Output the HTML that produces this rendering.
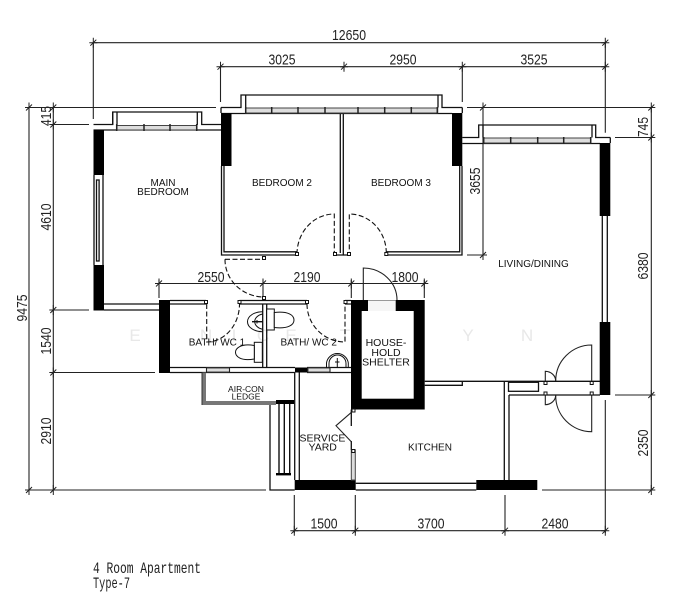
<!DOCTYPE html>
<html>
<head>
<meta charset="utf-8">
<style>
html,body{margin:0;padding:0;background:#fff;width:686px;height:600px;overflow:hidden}
svg{display:block}
.d{stroke:#222;stroke-width:1.1;fill:none}
.w{stroke:#111;stroke-width:1.3;fill:none}
.g{stroke:#444;stroke-width:1;fill:#ddd}
.dash{stroke:#111;stroke-width:1.1;fill:none;stroke-dasharray:5 2.5}
.num{font-family:"Liberation Sans",sans-serif;font-size:15px;fill:#222;text-anchor:middle}
.lb{font-family:"Liberation Sans",sans-serif;font-size:10px;fill:#111;text-anchor:middle}
.mono{font-family:"Liberation Mono",monospace;font-size:16px;fill:#222}
.wm{font-family:"Liberation Sans",sans-serif;font-size:17px;fill:#e8e8e8;text-anchor:middle}
</style>
</head>
<body>
<svg width="686" height="600" viewBox="0 0 686 600" xmlns="http://www.w3.org/2000/svg">
<defs>
<path id="t" d="M0-5V5M-4 0H4M-3 3L3-3" stroke="#222" stroke-width="1" fill="none"/>
<path id="p" d="M-1.5-1.5h3v3h-3z" stroke="#111" stroke-width="1" fill="#fff"/>
</defs>
<rect width="686" height="600" fill="#fff"/>

<!-- watermark -->
<g class="wm">
<text x="135" y="341">E</text><text x="165" y="341">U</text><text x="206" y="341">N</text><text x="234" y="341">I</text><text x="263" y="341">C</text><text x="291" y="341">E</text><text x="345" y="341">T</text><text x="375" y="341">E</text><text x="409" y="341">O</text><text x="468" y="341">Y</text><text x="527" y="341">N</text>
</g>

<!-- dimension lines -->
<g class="d">
<path d="M93.3 42.7H605.3M220.5 66.7H605.3"/>
<path d="M93.3 42V119M220.5 66V102M344 66V70M462.3 66V102M605.3 42V132.7"/>
<path d="M29 107.5V490M53.3 107.5V490"/>
<path d="M27 107.5H216M53 124.5H89M50 310H89M50 372.5H155M25 490H266"/>
<path d="M467 107.5H652M615 137.5H652M615 395H652M542 490H655M467 255H483"/>
<path d="M483 107.5V255M651.3 107.5V490"/>
<path d="M294.3 530.7H605.3M294.3 495V533M355.3 495V533M505 495V533M605.3 400V533"/>
<path d="M155 283.5H428M159 280V298M263 280V298M351.3 280V298M424.3 280V298"/>
</g>
<g>
<use href="#t" x="93.3" y="42.7"/><use href="#t" x="605.3" y="42.7"/>
<use href="#t" x="220.5" y="66.7"/><use href="#t" x="344" y="66.7"/><use href="#t" x="462.3" y="66.7"/><use href="#t" x="605.3" y="66.7"/>
<use href="#t" x="29" y="107.5"/><use href="#t" x="29" y="490"/>
<use href="#t" x="53.3" y="107.5"/><use href="#t" x="53.3" y="124.5"/><use href="#t" x="53.3" y="310"/><use href="#t" x="53.3" y="372.5"/><use href="#t" x="53.3" y="490"/>
<use href="#t" x="483" y="107.5"/><use href="#t" x="483" y="255"/>
<use href="#t" x="651.3" y="107.5"/><use href="#t" x="651.3" y="137.5"/><use href="#t" x="651.3" y="395"/><use href="#t" x="651.3" y="490"/>
<use href="#t" x="294.3" y="530.7"/><use href="#t" x="355.3" y="530.7"/><use href="#t" x="505" y="530.7"/><use href="#t" x="605.3" y="530.7"/>
<use href="#t" x="159" y="283.5"/><use href="#t" x="263" y="283.5"/><use href="#t" x="351.3" y="283.5"/><use href="#t" x="424.3" y="283.5"/>
</g>

<!-- dimension text -->
<g class="num">
<text x="349" y="40" textLength="34" lengthAdjust="spacingAndGlyphs">12650</text>
<text x="282" y="64.5" textLength="27" lengthAdjust="spacingAndGlyphs">3025</text>
<text x="403" y="64.5" textLength="27" lengthAdjust="spacingAndGlyphs">2950</text>
<text x="534" y="64.5" textLength="27" lengthAdjust="spacingAndGlyphs">3525</text>
<text x="211" y="282" textLength="27" lengthAdjust="spacingAndGlyphs">2550</text>
<text x="307" y="282" textLength="27" lengthAdjust="spacingAndGlyphs">2190</text>
<text x="405" y="282" textLength="27" lengthAdjust="spacingAndGlyphs">1800</text>
<text x="324" y="528.5" textLength="27" lengthAdjust="spacingAndGlyphs">1500</text>
<text x="431" y="528.5" textLength="27" lengthAdjust="spacingAndGlyphs">3700</text>
<text x="555" y="528.5" textLength="27" lengthAdjust="spacingAndGlyphs">2480</text>
<text transform="translate(51,116) rotate(-90)" textLength="20" lengthAdjust="spacingAndGlyphs">415</text>
<text transform="translate(51,217) rotate(-90)" textLength="27" lengthAdjust="spacingAndGlyphs">4610</text>
<text transform="translate(27,308) rotate(-90)" textLength="27" lengthAdjust="spacingAndGlyphs">9475</text>
<text transform="translate(51,341) rotate(-90)" textLength="27" lengthAdjust="spacingAndGlyphs">1540</text>
<text transform="translate(51,431) rotate(-90)" textLength="27" lengthAdjust="spacingAndGlyphs">2910</text>
<text transform="translate(480,181) rotate(-90)" textLength="27" lengthAdjust="spacingAndGlyphs">3655</text>
<text transform="translate(648,127) rotate(-90)" textLength="20" lengthAdjust="spacingAndGlyphs">745</text>
<text transform="translate(648,266) rotate(-90)" textLength="27" lengthAdjust="spacingAndGlyphs">6380</text>
<text transform="translate(648,443) rotate(-90)" textLength="27" lengthAdjust="spacingAndGlyphs">2350</text>
</g>

<!-- top walls and bays -->
<g class="w">
<path d="M93.5 124.5H112.7V112H201.7V124.5H221M93.5 130H221"/>
<path d="M117 112V125M197.3 112V125M112.7 112V125"/>
<path d="M221 107.5H241V95H442V107.5H462.3M221 113.5H452"/>
<path d="M245.7 95V107.5M438 95V107.5"/>
<path d="M462.3 137.5H478.7V125H595.7V137.5H610.3M462.3 143.5H600"/>
<path d="M483 125V137.5M592 125V137.5"/>
<path d="M221 107.5V113M462.3 107.5V113M610.3 137.5V143"/>
</g>
<!-- windows -->
<g class="g">
<rect x="117" y="125.5" width="80" height="4.5"/>
<rect x="245.7" y="108" width="192" height="5"/>
<rect x="483.7" y="138" width="107" height="5"/>
</g>
<g class="d" style="stroke-width:1.5">
<path d="M116.7 124V131M144 124V131M170 124V131M196.7 124V131"/>
<path d="M245.7 107V114M271.7 107V114M298 107V114M325 107V114M358 107V114M384.7 107V114M411.3 107V114M437.3 107V114"/>
<path d="M483.7 137V144M510.7 137V144M537.7 137V144M563.7 137V144M590.7 137V144"/>
</g>

<!-- black walls -->
<g fill="#000">
<rect x="93.5" y="130" width="10.5" height="45"/>
<rect x="93.5" y="265" width="10.5" height="45.5"/>
<rect x="221" y="113" width="10.5" height="53"/>
<rect x="452" y="113" width="10.3" height="53"/>
<rect x="599.7" y="143" width="10.6" height="73"/>
<rect x="599.7" y="322" width="10.6" height="73"/>
<rect x="159" y="300" width="11" height="73"/>
<rect x="351" y="300" width="73.7" height="109.5"/>
<rect x="294.7" y="480" width="61" height="10"/>
<rect x="476.3" y="480" width="61" height="10"/>
<rect x="295" y="367.5" width="12.5" height="5"/>
</g>
<rect x="361.7" y="311" width="52" height="87.7" fill="#fff"/>
<rect x="368" y="300.5" width="27.7" height="10.5" fill="#f6f6f6"/>
<path d="M368 300.5H395.7" stroke="#999" fill="none"/>

<!-- plain walls -->
<g class="w">
<path d="M94 175V265M103 175V265"/>
<rect x="96.5" y="180" width="2.6" height="81"/>
<path d="M221.5 166V255H297M224 166V251.8H297"/>
<path d="M340.3 113.5V253M343.3 113.5V255M334.5 255H343.3"/>
<path d="M386.3 251.8H459.7V166M386.3 255H462V166M349.3 255H343"/>
<path d="M602.3 216V322M607.3 216V322"/>
<path d="M104 304H159M104 310H159"/>
<path d="M170 304H206M239.5 304H307M345 304H351M170 300.5H206M239.5 300.5H307M345 300.5H351"/>
<path d="M262.7 304V367.5M266.7 304V367.5"/>
<path d="M170 367.5H295M170 372.5H295M307 367.5H351M307 372.5H351"/>
<path d="M294.7 372.5V480M299.3 372.5V480"/>
<path d="M270 405V490H294.7"/>
<path d="M351.3 409.5V426M351.3 441V450"/>
<path d="M355.7 483.3H476.3M355.7 490H476.3"/>
<path d="M424.7 381.3H600M424.7 385.3H462.3V381.3"/>
<path d="M504.3 381.3V480M509 395V480M509 395H600"/>
<rect x="508.5" y="382.3" width="30" height="9"/>
</g>

<!-- small windows bottom of bath -->
<g class="g">
<rect x="206.5" y="368" width="23" height="4"/>
<rect x="308" y="368" width="22" height="4"/>
<rect x="351.3" y="450" width="4" height="30"/>
</g>
<g class="d">
<path d="M206.5 367V373M229.5 367V373M330 367V373"/>
</g>

<!-- air-con ledge -->
<path d="M204 372.5V403H276" stroke="#777" stroke-width="4" fill="none"/>
<path d="M202 372.5V405" stroke="#333" stroke-width="1" fill="none"/>

<!-- railing -->
<rect x="276" y="400" width="18" height="4" fill="#000"/>
<rect x="276" y="473" width="15" height="2.4" fill="#000"/>
<g stroke="#111" stroke-width="1.4" fill="none">
<path d="M279 404V473M284.3 404V473M289.7 404V473"/>
</g>

<!-- doors -->
<g class="dash">
<path d="M297 254A37.3 40 0 0 1 334.3 214V254"/>
<path d="M386.3 253A37 39 0 0 0 349.3 214V253"/>
<path d="M225 259.3H263"/>
<path d="M225 259.3A39 37.5 0 0 0 264 297"/>
<path d="M206.7 304V342A33 38 0 0 0 239.5 304"/>
<path d="M307 304A38 38 0 0 0 345 342V304"/>
</g>
<g class="d">
<path d="M363.3 300V268A34 32 0 0 1 397 300"/>
<path d="M591.7 381V345A36 36 0 0 0 555.7 381"/>
<path d="M591.7 395V431.7A36 36 0 0 1 555.7 395"/>
<path d="M545.3 381V371.3A10.5 9.7 0 0 1 555.7 381"/>
<path d="M545.3 395V404.7A10.5 9.7 0 0 0 555.7 395"/>
<path d="M353.3 410.7L336 425.7L351.3 441.7"/>
</g>
<g>
<use href="#p" x="297" y="254"/><use href="#p" x="335" y="254"/><use href="#p" x="349" y="254"/><use href="#p" x="386.3" y="254"/>
<use href="#p" x="264" y="258"/><use href="#p" x="264" y="298"/>
<use href="#p" x="206" y="302"/><use href="#p" x="239.5" y="302"/><use href="#p" x="307" y="302"/><use href="#p" x="345.5" y="302"/>
<use href="#p" x="353.5" y="410.5"/><use href="#p" x="353.3" y="451"/>
<use href="#p" x="545.5" y="383"/><use href="#p" x="545.5" y="393.5"/><use href="#p" x="591.7" y="383"/><use href="#p" x="591.7" y="393.5"/>
</g>

<!-- fixtures -->
<g class="w" style="stroke-width:1">
<rect x="254.3" y="342.3" width="8" height="20" fill="#fff"/>
<path d="M254.3 345.5C240 343 235.5 349 235.5 352.3C235.5 356 240 361.5 254.3 359Z" fill="#fff"/>
<rect x="266.7" y="309" width="7.6" height="21" fill="#fff"/>
<path d="M274.3 312.5C288 311 294 315 294 320C294 325 288 329 274.3 327.5Z" fill="#fff"/>
<path d="M262.5 311.7A15 10 0 0 0 262.5 331.7"/>
<path d="M262.5 314A11 8 0 0 0 262.5 329.3"/>
<path d="M252 321.7H262.5" style="stroke-width:1.4"/>
<path d="M257 320V323.5"/>
<path d="M326.5 368V363A11 11 0 0 1 348.3 363V368"/>
<path d="M329 368V363.5A8.5 8.5 0 0 1 346 363.5V368"/>
<path d="M337.3 358V368"/>
<path d="M335 362H339.5"/>
</g>

<!-- room labels -->
<g class="lb">
<text x="163" y="186">MAIN</text>
<text x="163" y="195">BEDROOM</text>
<text x="282" y="186">BEDROOM 2</text>
<text x="401" y="186">BEDROOM 3</text>
<text x="533.5" y="267">LIVING/DINING</text>
<text x="217" y="345.5">BATH/ WC 1</text>
<text x="308.7" y="345.5">BATH/ WC 2</text>
<text x="246" y="392" style="font-size:8.5px">AIR-CON</text>
<text x="246" y="399.5" style="font-size:8.5px">LEDGE</text>
<text x="386" y="346" style="font-size:10.5px">HOUSE-</text>
<text x="386" y="356" style="font-size:10.5px">HOLD</text>
<text x="386" y="365.5" style="font-size:10.5px">SHELTER</text>
<text x="322.5" y="441.5" style="font-size:10.5px">SERVICE</text>
<text x="322.7" y="450.5" style="font-size:10.5px">YARD</text>
<text x="430" y="450.5">KITCHEN</text>
</g>

<!-- caption -->
<text class="mono" x="93" y="573" textLength="108" lengthAdjust="spacingAndGlyphs">4 Room Apartment</text>
<text class="mono" x="93" y="588" textLength="37" lengthAdjust="spacingAndGlyphs">Type-7</text>
</svg>
</body>
</html>
